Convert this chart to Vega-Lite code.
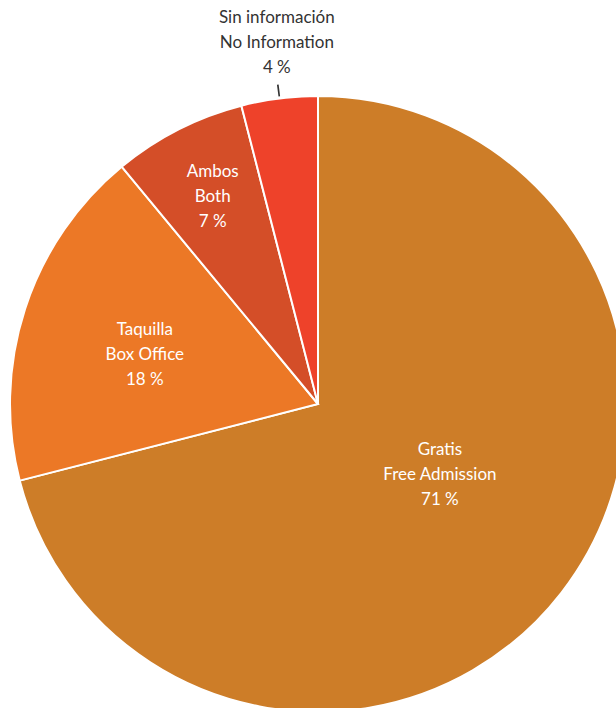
{
  "$schema": "https://vega.github.io/schema/vega-lite/v6.json",
  "width": 596,
  "height": 608,
  "autosize": "none",
  "padding": {"left": 20, "top": 100, "right": 0, "bottom": 0},
  "background": "white",
  "config": {"view": {"stroke": null}, "text": {"font": "Lato", "fontSize": 17, "lineBreak": "\n", "lineHeight": 25, "dy": -25}},
  "data": {"values": [
    {"key": "Gratis", "label": "Gratis\nFree Admission\n71 %", "value": 71, "order": 1},
    {"key": "Taquilla", "label": "Taquilla\nBox Office\n18 %", "value": 18, "order": 2},
    {"key": "Ambos", "label": "Ambos\nBoth\n7 %", "value": 7, "order": 3},
    {"key": "Sin", "label": "Sin información\nNo Information\n4 %", "value": 4, "order": 4}
  ]},
  "transform": [
    {"stack": "value", "groupby": [], "sort": [{"field": "order", "order": "ascending"}], "as": ["v0", "v1"]},
    {"calculate": "(datum.v0 + datum.v1) / 2", "as": "mid"}
  ],
  "layer": [
    {
      "mark": {"type": "arc", "outerRadius": 308, "stroke": "white", "strokeWidth": 2},
      "encoding": {
        "theta": {"field": "v0", "type": "quantitative", "scale": {"domain": [0, 100]}},
        "theta2": {"field": "v1"},
        "color": {"field": "key", "type": "nominal", "legend": null,
          "scale": {"domain": ["Gratis", "Taquilla", "Ambos", "Sin"], "range": ["#CD7D28", "#EC7826", "#D44E28", "#EE422A"]}}
      }
    },
    {
      "transform": [{"filter": "datum.key == 'Sin'"}],
      "mark": {"type": "arc", "radius": 310, "radius2": 322, "thetaOffset": 0.1235, "theta2Offset": -0.1225, "color": "#333333"},
      "encoding": {
        "theta": {"field": "v0", "type": "quantitative", "scale": {"domain": [0, 100]}},
        "theta2": {"field": "v1"}
      }
    },
    {
      "transform": [{"filter": "datum.key == 'Gratis'"}],
      "mark": {"type": "text", "radius": 141, "thetaOffset": -0.133, "color": "white", "baseline": "middle", "align": "center"},
      "encoding": {
        "theta": {"field": "mid", "type": "quantitative", "scale": {"domain": [0, 100]}},
        "text": {"field": "label"}
      }
    },
    {
      "transform": [{"filter": "datum.key == 'Taquilla'"}],
      "mark": {"type": "text", "radius": 180, "thetaOffset": -0.038, "color": "white", "baseline": "middle", "align": "center"},
      "encoding": {
        "theta": {"field": "mid", "type": "quantitative", "scale": {"domain": [0, 100]}},
        "text": {"field": "label"}
      }
    },
    {
      "transform": [{"filter": "datum.key == 'Ambos'"}],
      "mark": {"type": "text", "radius": 232, "color": "white", "baseline": "middle", "align": "center"},
      "encoding": {
        "theta": {"field": "mid", "type": "quantitative", "scale": {"domain": [0, 100]}},
        "text": {"field": "label"}
      }
    },
    {
      "transform": [{"filter": "datum.key == 'Sin'"}],
      "mark": {"type": "text", "radius": 363, "thetaOffset": 0.012, "color": "#333333", "baseline": "middle", "align": "center"},
      "encoding": {
        "theta": {"field": "mid", "type": "quantitative", "scale": {"domain": [0, 100]}},
        "text": {"field": "label"}
      }
    }
  ]
}
